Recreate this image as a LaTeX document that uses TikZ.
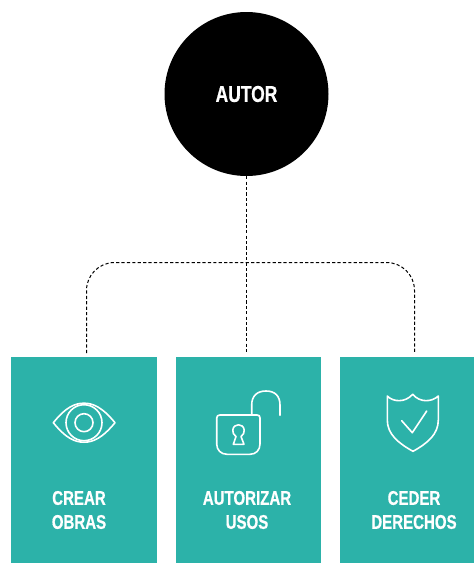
\documentclass[tikz,border=0pt]{standalone}
\usepackage{fontspec}
\setmainfont{Liberation Sans}[BoldFont={Liberation Sans Bold},BoldFeatures={FakeStretch=0.76,FakeBold=0.6}]
\definecolor{teal1}{HTML}{2CB2A9}
\tikzset{
  x=1pt,y=-1pt,
  card/.style={draw=none,fill=teal1,minimum height=206.5pt,inner sep=0pt,anchor=north west},
  cardlabel/.style={text=white,font=\fontsize{19.8}{24}\selectfont\bfseries,align=center,inner sep=0pt},
  rootnode/.style={circle,fill=black,text=white,minimum size=164pt,inner sep=0pt,font=\fontsize{23}{24}\selectfont\bfseries},
  link/.style={draw=black,line width=1pt,dash pattern=on 3.2pt off 2.2pt},
  icon/.style={draw=white,line width=1.6pt,line join=round,line cap=round}
}
\begin{document}
\begin{tikzpicture}
\useasboundingbox (0,0) rectangle (474,563);
\node[rootnode] (autor) at (246.5,94) {AUTOR};
\node[card,minimum width=145.5pt] (b1) at (11,356.5) {};
\node[card,minimum width=145pt] (b2) at (176,356.5) {};
\node[card,minimum width=134pt] (b3) at (340,356.5) {};
\node[cardlabel] (t1) at (79,510) {CREAR\\OBRAS};
\node[cardlabel] (t2) at (247,510) {AUTORIZAR\\USOS};
\node[cardlabel] (t3) at (414,510) {CEDER\\DERECHOS};
\coordinate (jl) at (86.5,353);
\coordinate (jr) at (414.5,353);
\coordinate (jm) at (autor.south |- jl);
\draw[link] (autor.south) -- (jm);
\draw[link,rounded corners=28pt] (jl) -- (86.5,262.5) -- (414.5,262.5) -- (jr);
% eye
\draw[icon] (53.3,422.7) .. controls (66,407) and (75,403.2) .. (84,403.2) .. controls (93,403.2) and (102,407) .. (115,422.7) .. controls (102,438.4) and (93,442.2) .. (84,442.2) .. controls (75,442.2) and (66,438.4) .. (53.3,422.7) -- cycle;
\draw[icon] (84,422.7) circle[radius=18];
\draw[icon] (84,422.7) circle[radius=9];
% lock
\draw[icon] (220,415) -- (257,415) .. controls (259,415) and (260,416) .. (260,418) -- (260,444) .. controls (260,450) and (256,454.3) .. (250,454.3) -- (227,454.3) .. controls (221,454.3) and (216.7,450) .. (216.7,444) -- (216.7,418) .. controls (216.7,416) and (218,415) .. (220,415) -- cycle;
\draw[icon] (251.7,415) -- (251.7,405) .. controls (251.7,396) and (257,391) .. (266,391) .. controls (275,391) and (280,396) .. (280,405) -- (280,415.3);
\draw[icon] (233.3,444.3) -- (236,436.5) .. controls (233.5,435) and (232.6,432.5) .. (232.8,430) .. controls (233.5,423) and (243.5,423) .. (244.2,430) .. controls (244.4,432.5) and (243.5,435) .. (241,436.5) -- (244,444.3) -- cycle;
% shield
\draw[icon] (387.3,396) .. controls (393,402) and (405,403) .. (412.7,394.3) .. controls (420,403) and (432,402) .. (438.3,396) -- (438.3,420) .. controls (438.3,434) and (428,443) .. (413,451.3) .. controls (398,443) and (387.3,434) .. (387.3,420) -- cycle;
\draw[icon] (401.7,420.7) -- (412.3,432.7) -- (426.7,411);
\end{tikzpicture}
\end{document}
